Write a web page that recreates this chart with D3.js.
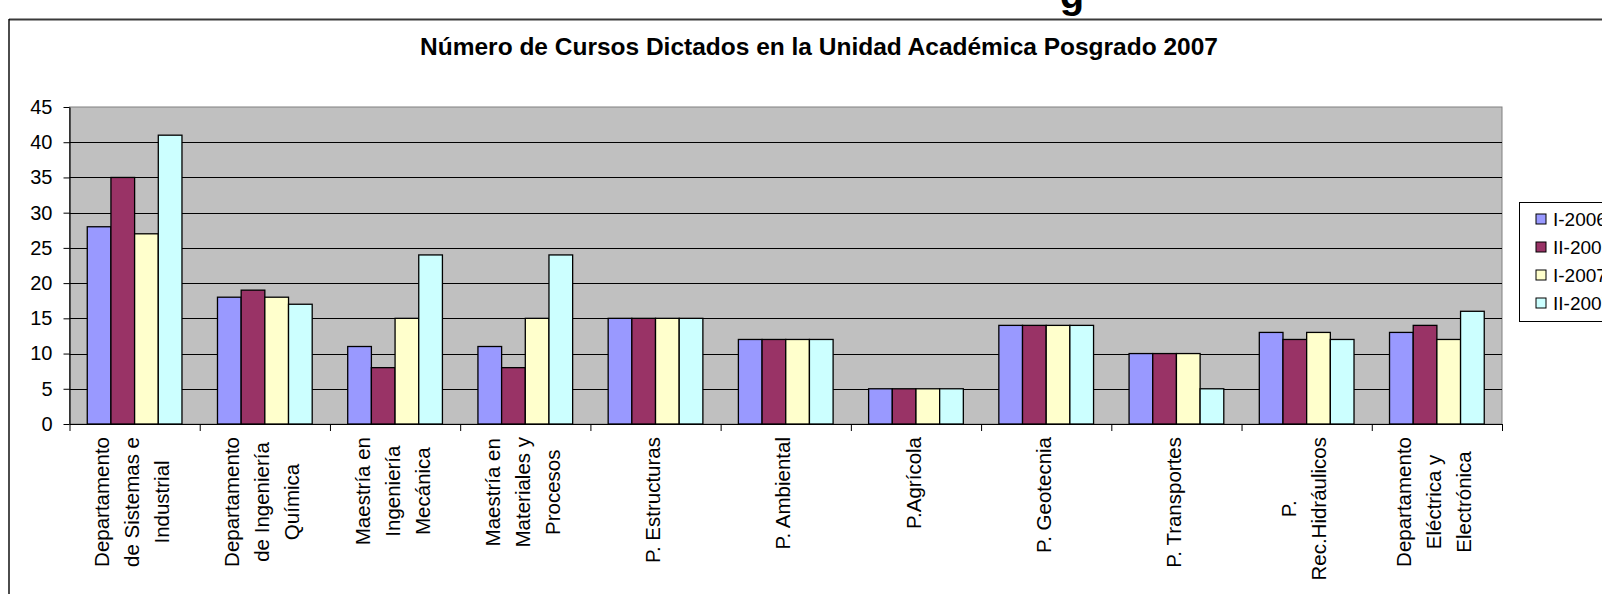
<!DOCTYPE html>
<html>
<head>
<meta charset="utf-8">
<script src="https://cdn.jsdelivr.net/npm/d3@7/dist/d3.min.js"></script>
<style>
  html, body { margin: 0; padding: 0; background: #ffffff; }
  svg { display: block; }
  text { font-family: "Liberation Sans", Arial, sans-serif; fill: #000; }
</style>
</head>
<body>
<svg id="chart" width="1602" height="594"></svg>
<script>
// ---- data ----
const categories = [
  ["Departamento", "de Sistemas e", "Industrial"],
  ["Departamento", "de Ingeniería", "Química"],
  ["Maestría en", "Ingeniería", "Mecánica"],
  ["Maestría en", "Materiales y", "Procesos"],
  ["P. Estructuras"],
  ["P. Ambiental"],
  ["P.Agrícola"],
  ["P. Geotecnia"],
  ["P. Transportes"],
  ["P.", "Rec.Hidráulicos"],
  ["Departamento", "Eléctrica y", "Electrónica"]
];
const seriesNames = ["I-2006", "II-2006", "I-2007", "II-2007"];
const valuesI2006  = [28, 18, 11, 11, 15, 12, 5, 14, 10, 13, 13];
const valuesII2006 = [35, 19,  8,  8, 15, 12, 5, 14, 10, 12, 14];
const valuesI2007  = [27, 18, 15, 15, 15, 12, 5, 14, 10, 13, 12];
const valuesII2007 = [41, 17, 24, 24, 15, 12, 5, 14,  5, 12, 16];
const yTicks = [0, 5, 10, 15, 20, 25, 30, 35, 40, 45];
const titleText = "Número de Cursos Dictados en la Unidad Académica Posgrado 2007";

const seriesValues = [valuesI2006, valuesII2006, valuesI2007, valuesII2007];
const colors = ["#9999FF", "#993366", "#FFFFCC", "#CCFFFF"];

// ---- layout ----
const plotL = 69.5, plotR = 1502, plotT = 107, plotB = 424;
const svg = d3.select("#chart");

// cut-off heading descender above frame
svg.append("text").attr("x", 1072).attr("y", 8).attr("text-anchor", "middle")
  .style("font-weight", "bold").style("font-size", "40px").text("g");

// outer frame
svg.append("rect").attr("x", 0).attr("y", 18.5).attr("width", 1602).attr("height", 4).attr("fill", "#fff");
svg.append("line").attr("x1", 9).attr("x2", 1602).attr("y1", 19.5).attr("y2", 19.5)
  .attr("stroke", "#3a3a3a").attr("stroke-width", 2.2);
svg.append("line").attr("x1", 9).attr("x2", 9).attr("y1", 19).attr("y2", 594)
  .attr("stroke", "#000").attr("stroke-width", 1.4);

// title
const title = svg.append("text").attr("x", 819).attr("y", 55).attr("text-anchor", "middle")
  .style("font-weight", "bold").style("font-size", "24px").text(titleText);
const tw = title.node().getComputedTextLength();
title.style("font-size", (24 * 798 / tw).toFixed(2) + "px");

// scales
const x0 = d3.scaleBand().domain(d3.range(categories.length)).range([plotL, plotR]).paddingInner(0).paddingOuter(0);
const step = x0.step();
const bw = step / 5.5;
const x1 = d3.scaleBand().domain(seriesNames).range([0.75 * bw, 4.75 * bw]).padding(0);
const y = d3.scaleLinear().domain([0, 45]).range([plotB, plotT]);
const xb = d3.scaleLinear().domain([0, categories.length]).range([plotL, plotR]);

// plot area
svg.append("rect").attr("x", plotL).attr("y", plotT).attr("width", plotR - plotL).attr("height", plotB - plotT)
  .attr("fill", "#C0C0C0").attr("stroke", "#808080").attr("stroke-width", 1);

// gridlines
svg.append("g").selectAll("line").data(yTicks.filter(v => v > 0 && v < 45)).join("line")
  .attr("x1", plotL).attr("x2", plotR)
  .attr("y1", d => Math.round(y(d)) + 0.5).attr("y2", d => Math.round(y(d)) + 0.5)
  .attr("stroke", "#000").attr("stroke-width", 1);

// bars
const groups = svg.append("g").selectAll("g").data(categories).join("g")
  .attr("transform", (d, i) => `translate(${x0(i)},0)`);
groups.selectAll("rect").data((d, i) => seriesNames.map((s, k) => ({ s, k, v: seriesValues[k][i] }))).join("rect")
  .attr("x", d => x1(d.s)).attr("width", x1.bandwidth())
  .attr("y", d => y(d.v)).attr("height", d => y(0) - y(d.v))
  .attr("fill", d => colors[d.k]).attr("stroke", "#000").attr("stroke-width", 1.3);

// y axis
const yAxis = svg.append("g").attr("transform", `translate(${plotL},0)`)
  .call(d3.axisLeft(y).tickValues(yTicks).tickSize(6).tickPadding(11).tickSizeOuter(0));
yAxis.select(".domain").attr("stroke", "#000").attr("stroke-width", 1.2);
yAxis.selectAll(".tick line").attr("stroke", "#000");
yAxis.selectAll("text").style("font-size", "20px").style("font-family", '"Liberation Sans", Arial, sans-serif').attr("fill", "#000");

// x axis
const xAxis = svg.append("g").attr("transform", `translate(0,${plotB})`)
  .call(d3.axisBottom(xb).tickValues(d3.range(categories.length + 1)).tickFormat("").tickSize(7).tickSizeOuter(0));
xAxis.select(".domain").attr("stroke", "#000").attr("stroke-width", 1.2);
xAxis.selectAll(".tick line").attr("stroke", "#000");

// category labels (rotated, multi-line, centered)
const labelTop = 437, lineGap = 30, fs = 20.5;
categories.forEach((lines, i) => {
  const cx = x0(i) + step / 2;
  const g = svg.append("g").attr("transform", `translate(${cx},${labelTop}) rotate(-90)`);
  const texts = lines.map((ln, j) => g.append("text")
    .attr("y", 4.6 + (j - (lines.length - 1) / 2) * lineGap)
    .attr("text-anchor", "middle").style("font-size", fs + "px").text(ln));
  const maxLen = d3.max(texts, t => t.node().getComputedTextLength());
  texts.forEach(t => t.attr("x", -maxLen / 2));
});

// legend
const legTop = 202, legBot = 321, legL = 1519;
svg.append("rect").attr("x", legL + 0.5).attr("y", legTop + 0.5).attr("width", 120).attr("height", legBot - legTop)
  .attr("fill", "#fff").attr("stroke", "#000").attr("stroke-width", 1);
const legY = d3.scalePoint().domain(seriesNames).range([219, 303]);
const leg = svg.append("g").selectAll("g").data(seriesNames).join("g")
  .attr("transform", d => `translate(0,${legY(d)})`);
leg.append("rect").attr("x", 1536).attr("y", -5).attr("width", 10).attr("height", 10)
  .attr("fill", (d, i) => colors[i]).attr("stroke", "#000").attr("stroke-width", 1);
leg.append("text").attr("x", 1553).attr("y", 0).attr("dy", "0.35em")
  .style("font-size", "19px").text(d => d);
</script>
</body>
</html>
